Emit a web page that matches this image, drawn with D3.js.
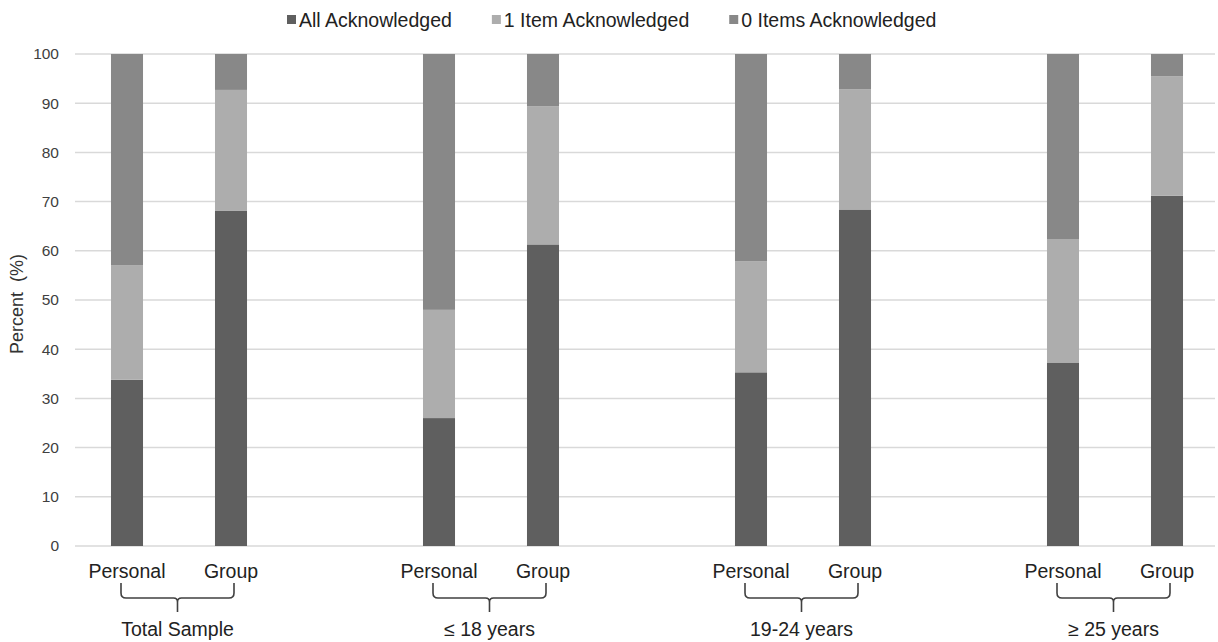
<!DOCTYPE html>
<html>
<head>
<meta charset="utf-8">
<script src="https://cdn.jsdelivr.net/npm/d3@7"></script>
<style>
  html, body { margin: 0; padding: 0; background: #fff; }
  svg { display: block; font-family: "Liberation Sans", Arial, sans-serif; }
</style>
</head>
<body>
<svg id="chart" width="1218" height="642"></svg>
<script>
// ---- data ----
const groups = ["Total Sample", "\u2264 18 years", "19-24 years", "\u2265 25 years"];
const types = ["Personal", "Group"];
const seriesNames = ["All Acknowledged", "1 Item Acknowledged", "0 Items Acknowledged"];
// order: Total P, Total G, <=18 P, <=18 G, 19-24 P, 19-24 G, >=25 P, >=25 G
const allAck    = [33.8, 68.1, 26.0, 61.3, 35.3, 68.4, 37.3, 71.2];
const oneItem   = [23.3, 24.6, 22.0, 28.1, 22.6, 24.4, 25.1, 24.3];
const zeroItems = [42.9,  7.3, 52.0, 10.6, 42.1,  7.2, 37.6,  4.5];
const yTicks = [0, 10, 20, 30, 40, 50, 60, 70, 80, 90, 100];

const colors = ["#5f5f5f", "#adadad", "#888888"];

// ---- layout ----
const svg = d3.select("#chart");
const pLeft = 75, pRight = 1219, pTop = 54, pBottom = 546;

// slot keys: P, G, gap, P, G, gap, ...
const slots = [];
const bars = [];
groups.forEach((g, gi) => {
  types.forEach((t, ti) => {
    const key = gi + "-" + t;
    slots.push(key);
    const idx = gi * 2 + ti;
    bars.push({ key, group: g, type: t, values: [allAck[idx], oneItem[idx], zeroItems[idx]] });
  });
  if (gi < groups.length - 1) slots.push("gap" + gi);
});

const x = d3.scaleBand().domain(slots).range([pLeft, pRight])
  .paddingInner(0.692).paddingOuter(0.346);
const y = d3.scaleLinear().domain([0, 100]).range([pBottom, pTop]);

// gridlines
svg.append("g").selectAll("line").data(yTicks).join("line")
  .attr("x1", pLeft).attr("x2", 1215)
  .attr("y1", d => y(d)).attr("y2", d => y(d))
  .attr("stroke", "#d9d9d9").attr("stroke-width", 1.5);

// y axis labels
const yAxis = d3.axisLeft(y).tickValues(yTicks).tickSize(0).tickPadding(0);
const ya = svg.append("g").attr("transform", `translate(59,0)`).call(yAxis);
ya.select(".domain").remove();
ya.selectAll("text").attr("font-size", 15.5).attr("fill", "#404040")
  .attr("font-family", "Liberation Sans, Arial, sans-serif");

// y title
svg.append("text")
  .attr("transform", `translate(23,${(pTop + pBottom) / 2 + 4}) rotate(-90)`)
  .attr("text-anchor", "middle").attr("font-size", 18).attr("fill", "#333333")
  .attr("xml:space", "preserve")
  .text("Percent  (%)");

// stacked bars
const stackData = bars.map(b => {
  let acc = 0;
  return b.values.map((v, si) => { const s = { key: b.key, si, y0: acc, y1: acc + v }; acc += v; return s; });
}).flat();

svg.append("g").selectAll("rect").data(stackData).join("rect")
  .attr("x", d => x(d.key))
  .attr("width", x.bandwidth())
  .attr("y", d => y(d.y1))
  .attr("height", d => y(d.y0) - y(d.y1))
  .attr("fill", d => colors[d.si]);

// category labels
svg.append("g").selectAll("text").data(bars).join("text")
  .attr("x", d => x(d.key) + x.bandwidth() / 2)
  .attr("y", 578)
  .attr("text-anchor", "middle").attr("font-size", 19.5).attr("fill", "#222222")
  .text(d => d.type);

// braces + group labels
const bg = svg.append("g");
groups.forEach((g, gi) => {
  const cp = x(gi + "-Personal") + x.bandwidth() / 2;
  const cg = x(gi + "-Group") + x.bandwidth() / 2;
  const xl = cp - 6, xr = cg + 3, xc = (xl + xr) / 2;
  const y0 = 583, y1 = 598, y2 = 612, r = 5;
  const p = `M${xl},${y0} V${y1 - r} Q${xl},${y1} ${xl + r},${y1} H${xc - 4} Q${xc},${y1} ${xc},${y1 + 4} V${y2}
             M${xc},${y1 + 4} Q${xc},${y1} ${xc + 4},${y1} H${xr - r} Q${xr},${y1} ${xr},${y1 - r} V${y0}`;
  bg.append("path").attr("d", p).attr("fill", "none").attr("stroke", "#404040").attr("stroke-width", 1.6);
  bg.append("text").attr("x", xc).attr("y", 636)
    .attr("text-anchor", "middle").attr("font-size", 19.5).attr("fill", "#222222")
    .text(g);
});

// legend
const lg = svg.append("g");
let lx = 287;
seriesNames.forEach((s, i) => {
  lg.append("rect").attr("x", lx).attr("y", 15).attr("width", 9).attr("height", 9).attr("fill", colors[i]);
  const t = lg.append("text").attr("x", lx + 12).attr("y", 27)
    .attr("font-size", 19.5).attr("fill", "#222222").text(s);
  lx += 12 + t.node().getComputedTextLength() + 40;
});
</script>
</body>
</html>
